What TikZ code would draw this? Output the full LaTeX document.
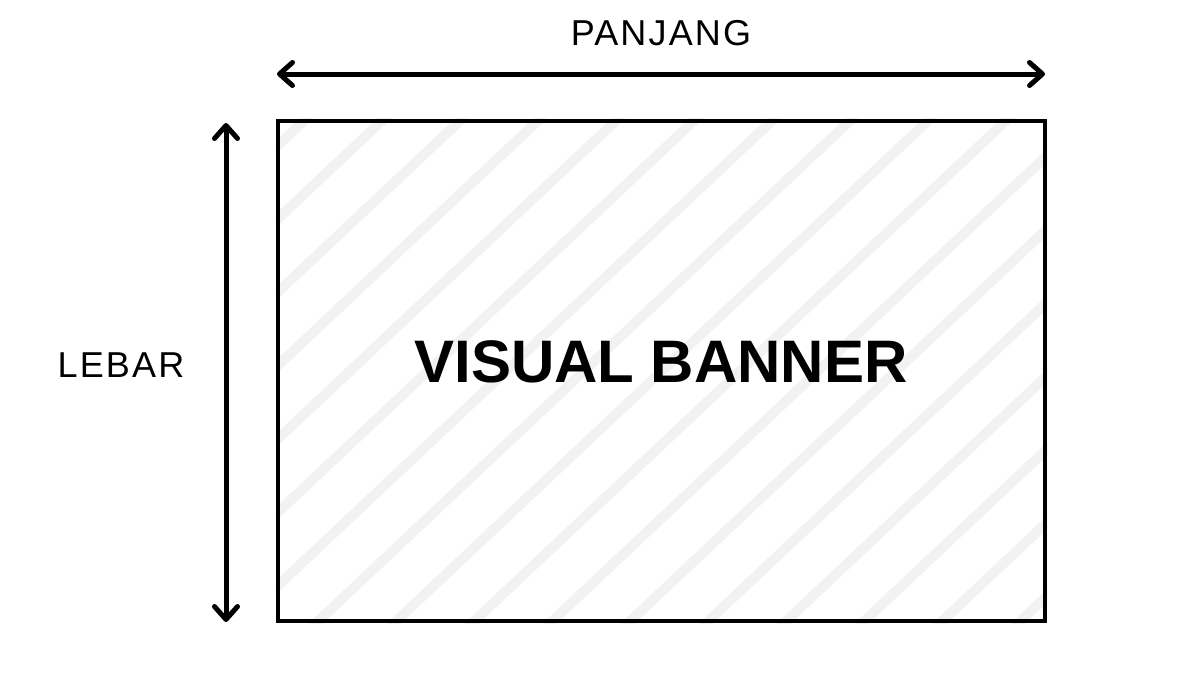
\documentclass[tikz,border=0pt]{standalone}
\usepackage{fontspec}
\setmainfont{Liberation Sans}
\newfontfamily\labelfont[LetterSpace=6]{Liberation Sans}
\usepackage{tikz}
\usetikzlibrary{arrows.meta,backgrounds}
\definecolor{stripegray}{HTML}{F2F2F2}
\tikzset{
  >={Straight Barb[length=13pt,width=23pt,line cap=round,line join=round]},
  banner/.style={
    rectangle,
    draw=black, line width=4.5pt,
    minimum width=767pt,
    minimum height=500pt,
    inner sep=0pt},
  dimline/.style={draw, line width=5pt, <->},
  dimlabel/.style={font=\labelfont\fontsize{36}{40}\selectfont, inner sep=0pt},
  title/.style={font=\bfseries\fontsize{60}{66}\selectfont, inner sep=0pt},
  hatch/.style={draw=stripegray, line width=10pt, line cap=round},
}
\begin{document}
\begin{tikzpicture}[x=1pt,y=-1pt]
    \useasboundingbox (0,0) rectangle (1200,675);
    \node[banner] (banner) at (661.5,371) {};
    \node[title] (name) at (661,361.5) {VISUAL BANNER};
    % stripes behind the banner
    \begin{scope}[on background layer]
      \clip (banner.south west) rectangle (banner.north east);
      \foreach \k in {-2,...,16}
        \draw[hatch] (387+78*\k,116) -- (387+78*\k-542,626);
    \end{scope}
    % dimensions
    \coordinate (lenA) at (277,74);
    \coordinate (lenB) at (1045,74);
    \coordinate (widA) at (226,123);
    \coordinate (widB) at (226,622);
    \draw[dimline] (lenA) -- (lenB);
    \draw[dimline] (widA) -- (widB);
    \node[dimlabel] (panjang) at (661,33.5) {PANJANG};
    \node[dimlabel] (lebar) at (121,365.5) {LEBAR};
\end{tikzpicture}
\end{document}
